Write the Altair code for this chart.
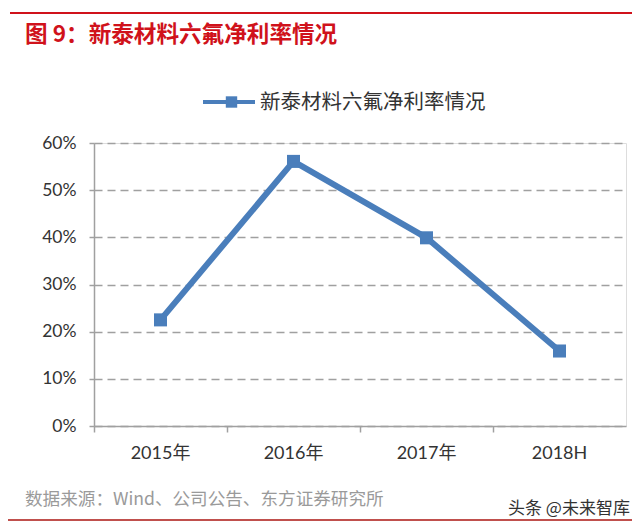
import altair as alt
import pandas as pd

# ---- data ----
categories = ["2015年", "2016年", "2017年", "2018H"]
net_margin = [0.225, 0.561, 0.399, 0.159]
series_name = "新泰材料六氟净利率情况"
y_ticks = [0.0, 0.1, 0.2, 0.3, 0.4, 0.5, 0.6]
title_text = ["图 9：新泰材料六氟净利率情况"]
source_text = ["数据来源：Wind、公司公告、东方证券研究所"]
watermark_text = ["头条 @未来智库"]

BLUE = "#4a7ebb"
RED = "#d0121b"
GRAY = "#a0a0a0"
FONT = "Lato, 'Noto Sans CJK SC', sans-serif"
CJK = "'Noto Sans CJK SC', sans-serif"

df = pd.DataFrame({"cat": categories, "val": net_margin, "series": [series_name] * len(categories)})

x_enc = alt.X(
    "cat:N", sort=categories,
    scale=alt.Scale(type="band", paddingInner=0, paddingOuter=0),
    axis=alt.Axis(title=None, labelAngle=0, bandPosition=0, labelFont=FONT, labelFontSize=18,
                  labelColor="#333333", labelPadding=12, tickSize=6, tickColor=GRAY, tickWidth=1.5,
                  domainColor=GRAY, domainWidth=1.5, grid=False),
)
y_enc = alt.Y(
    "val:Q",
    scale=alt.Scale(domain=[0, 0.6], nice=False, zero=True),
    axis=alt.Axis(title=None, values=y_ticks, format=".0%", labelFont=FONT, labelFontSize=17.5,
                  labelColor="#333333", labelPadding=13, tickSize=5, tickColor=GRAY, tickWidth=1.5,
                  domainColor=GRAY, domainWidth=1.5, grid=True, gridColor=GRAY, gridWidth=1.5,
                  gridDash=[8, 5]),
)

base = alt.Chart(df)
line = base.mark_line(color=BLUE, strokeWidth=6).encode(x=x_enc, y=y_enc)
pts = base.mark_point(filled=True, shape="square", size=170, color=BLUE, opacity=1).encode(x=x_enc, y=y_enc)

# legend (manual, top center)
leg_df = pd.DataFrame({"series": [series_name]})
leg_line = alt.Chart(leg_df).mark_rule(color=BLUE, strokeWidth=4).encode(
    x=alt.value(109), x2=alt.value(161), y=alt.value(-41))
leg_pt = alt.Chart(leg_df).mark_point(filled=True, shape="square", size=130, color=BLUE, opacity=1).encode(
    x=alt.value(137.5), y=alt.value(-41))
leg_txt = alt.Chart(leg_df).mark_text(align="left", baseline="middle", font=CJK, fontSize=20.5,
                                      color="#333333").encode(
    x=alt.value(166), y=alt.value(-40), text="series:N")

# decorations: title, red lines, source, watermark
top_rule = alt.Chart(leg_df).mark_rule(color=RED, strokeWidth=2).encode(
    x=alt.value(-84), x2=alt.value(538), y=alt.value(-130))
title = alt.Chart(pd.DataFrame({"t": title_text})).mark_text(
    align="left", baseline="middle", font=CJK, fontSize=22.6, fontWeight="bold", color=RED).encode(
    x=alt.value(-69), y=alt.value(-108), text="t:N")
source = alt.Chart(pd.DataFrame({"t": source_text})).mark_text(
    align="left", baseline="middle", font=CJK, fontSize=17.6, color="#9a9a9a").encode(
    x=alt.value(-69), y=alt.value(357), text="t:N")
bottom_rule = alt.Chart(leg_df).mark_rule(color="#c0504d", strokeWidth=2).encode(
    x=alt.value(-86), x2=alt.value(538), y=alt.value(377))
watermark = alt.Chart(pd.DataFrame({"t": watermark_text})).mark_text(
    align="left", baseline="middle", font=CJK, fontSize=17, color="#333333").encode(
    x=alt.value(414), y=alt.value(366), text="t:N")

chart = alt.layer(line, pts, leg_line, leg_pt, leg_txt, top_rule, title, source, bottom_rule, watermark).properties(
    width=532, height=283,
    autosize=alt.AutoSizeParams(type="none"),
    padding={"left": 86, "top": 135, "right": 6, "bottom": 98},
).configure_view(stroke=None).configure(background="white")

chart.save("out.html", embed_options={"renderer": "svg", "actions": False})
